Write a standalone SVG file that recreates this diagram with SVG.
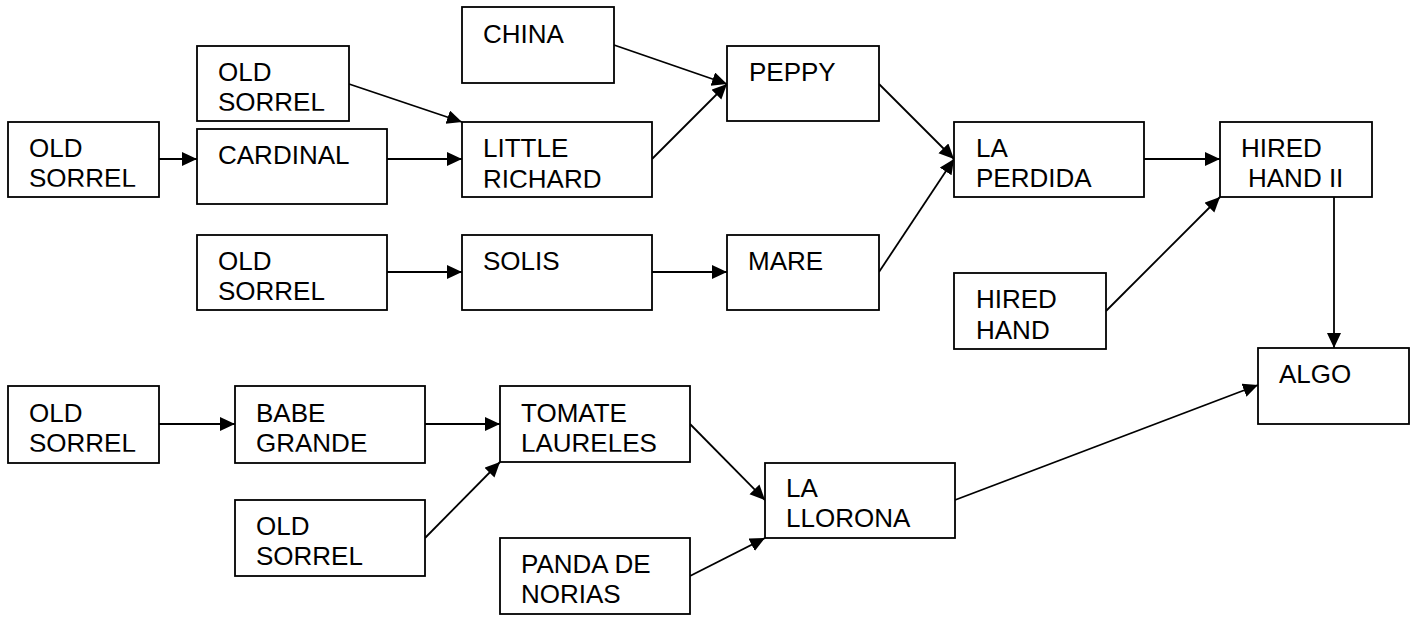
<svg xmlns="http://www.w3.org/2000/svg" width="1416" height="617" viewBox="0 0 1416 617">
<style>
  rect.box { fill: #ffffff; stroke: #000000; stroke-width: 1.8; }
  text { font-family: "Liberation Sans", Arial, sans-serif; font-size: 26px; fill: #000000; }
  .conn line { stroke: #000000; stroke-width: 1.8; fill: none; marker-end: url(#arrow); }
</style>
<defs>
  <marker id="arrow" markerUnits="userSpaceOnUse" markerWidth="16" markerHeight="15" refX="15" refY="7" orient="auto">
    <path d="M0,0 L15,7 L0,14 z" fill="#000000"/>
  </marker>
  <clipPath id="c-os1"><rect x="8" y="122" width="151" height="64.7"/></clipPath>
  <clipPath id="c-os2"><rect x="197" y="46" width="152" height="64.7"/></clipPath>
  <clipPath id="c-little"><rect x="462" y="122" width="190" height="65.7"/></clipPath>
  <clipPath id="c-os4"><rect x="8" y="386" width="151" height="65.7"/></clipPath>
  <clipPath id="c-babe"><rect x="235" y="386" width="190" height="65.7"/></clipPath>
  <clipPath id="c-tomate"><rect x="500" y="386" width="190" height="65.7"/></clipPath>
</defs>
<rect width="1416" height="617" fill="#ffffff"/>

<g class="conn" id="connectors">
  <line x1="159" y1="159" x2="197" y2="159"/>
  <line x1="387" y1="159" x2="462" y2="159"/>
  <line x1="349" y1="84" x2="462" y2="122"/>
  <line x1="614" y1="45" x2="727" y2="84"/>
  <line x1="652" y1="159" x2="727" y2="84"/>
  <line x1="879" y1="84" x2="954" y2="159"/>
  <line x1="387" y1="272" x2="462" y2="272"/>
  <line x1="652" y1="272" x2="727" y2="272"/>
  <line x1="879" y1="272" x2="954" y2="159"/>
  <line x1="1144" y1="159" x2="1220" y2="159"/>
  <line x1="1106" y1="311" x2="1220" y2="197"/>
  <line x1="1334" y1="197" x2="1334" y2="348"/>
  <line x1="159" y1="424" x2="235" y2="424"/>
  <line x1="425" y1="424" x2="500" y2="424"/>
  <line x1="425" y1="538" x2="500" y2="462"/>
  <line x1="690" y1="424" x2="765" y2="500"/>
  <line x1="690" y1="576" x2="765" y2="538"/>
  <line x1="955" y1="500" x2="1258" y2="385"/>
</g>

<g id="node-old-sorrel-1">
  <rect class="box" x="8" y="122" width="151" height="75"/>
  <text clip-path="url(#c-os1)"><tspan x="29" y="157">OLD</tspan><tspan x="29" y="187">SORREL</tspan></text>
</g>
<g id="node-old-sorrel-2">
  <rect class="box" x="197" y="46" width="152" height="75"/>
  <text clip-path="url(#c-os2)"><tspan x="218" y="81">OLD</tspan><tspan x="218" y="111">SORREL</tspan></text>
</g>
<g id="node-cardinal">
  <rect class="box" x="197" y="129" width="190" height="75"/>
  <text x="218" y="164">CARDINAL</text>
</g>
<g id="node-china">
  <rect class="box" x="462" y="7" width="152" height="76"/>
  <text x="483" y="43">CHINA</text>
</g>
<g id="node-little-richard">
  <rect class="box" x="462" y="122" width="190" height="75"/>
  <text clip-path="url(#c-little)"><tspan x="483" y="157">LITTLE</tspan><tspan x="483" y="188">RICHARD</tspan></text>
</g>
<g id="node-peppy">
  <rect class="box" x="727" y="46" width="152" height="75"/>
  <text x="749" y="81">PEPPY</text>
</g>
<g id="node-old-sorrel-3">
  <rect class="box" x="197" y="235" width="190" height="75"/>
  <text><tspan x="218" y="270">OLD</tspan><tspan x="218" y="300">SORREL</tspan></text>
</g>
<g id="node-solis">
  <rect class="box" x="462" y="235" width="190" height="75"/>
  <text x="483" y="270">SOLIS</text>
</g>
<g id="node-mare">
  <rect class="box" x="727" y="235" width="152" height="75"/>
  <text x="748" y="270">MARE</text>
</g>
<g id="node-la-perdida">
  <rect class="box" x="954" y="122" width="190" height="75"/>
  <text><tspan x="976" y="157">LA</tspan><tspan x="976" y="187">PERDIDA</tspan></text>
</g>
<g id="node-hired-hand-ii">
  <rect class="box" x="1220" y="122" width="152" height="75"/>
  <text><tspan x="1241" y="157">HIRED</tspan><tspan x="1248" y="187">HAND II</tspan></text>
</g>
<g id="node-hired-hand">
  <rect class="box" x="954" y="273" width="152" height="76"/>
  <text><tspan x="976" y="308">HIRED</tspan><tspan x="976" y="339">HAND</tspan></text>
</g>
<g id="node-algo">
  <rect class="box" x="1258" y="348" width="151" height="76"/>
  <text x="1279" y="383">ALGO</text>
</g>
<g id="node-old-sorrel-4">
  <rect class="box" x="8" y="386" width="151" height="77"/>
  <text clip-path="url(#c-os4)"><tspan x="29" y="422">OLD</tspan><tspan x="29" y="452">SORREL</tspan></text>
</g>
<g id="node-babe-grande">
  <rect class="box" x="235" y="386" width="190" height="77"/>
  <text clip-path="url(#c-babe)"><tspan x="256" y="422">BABE</tspan><tspan x="256" y="452">GRANDE</tspan></text>
</g>
<g id="node-tomate-laureles">
  <rect class="box" x="500" y="386" width="190" height="76"/>
  <text clip-path="url(#c-tomate)"><tspan x="521" y="422">TOMATE</tspan><tspan x="521" y="452">LAURELES</tspan></text>
</g>
<g id="node-old-sorrel-5">
  <rect class="box" x="235" y="500" width="190" height="76"/>
  <text><tspan x="256" y="535">OLD</tspan><tspan x="256" y="565">SORREL</tspan></text>
</g>
<g id="node-la-llorona">
  <rect class="box" x="765" y="463" width="190" height="75"/>
  <text><tspan x="786" y="497">LA</tspan><tspan x="786" y="527">LLORONA</tspan></text>
</g>
<g id="node-panda-de-norias">
  <rect class="box" x="500" y="538" width="190" height="76"/>
  <text><tspan x="521" y="573">PANDA DE</tspan><tspan x="521" y="603">NORIAS</tspan></text>
</g>
</svg>
